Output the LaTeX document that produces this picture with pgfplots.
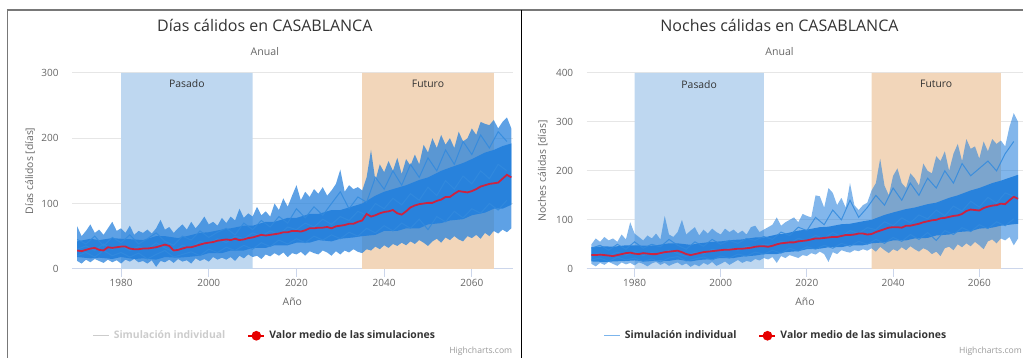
\documentclass[border=0pt]{standalone}
\usepackage{fontspec}
\setmainfont{Open Sans}
\usepackage{pgfplots}
\pgfplotsset{compat=1.18}
\usepgfplotslibrary{fillbetween}
\usepackage{pgfplotstable}

\definecolor{hcblue}{RGB}{40,130,220}
\definecolor{hcline}{RGB}{50,138,222}
\definecolor{pasado}{RGB}{190,215,240}
\definecolor{futuro}{RGB}{242,214,186}
\definecolor{meanred}{RGB}{205,35,65}
\definecolor{legred}{RGB}{230,0,0}
\definecolor{txtdark}{RGB}{51,51,51}
\definecolor{txtgray}{RGB}{102,102,102}
\definecolor{credgray}{RGB}{153,153,153}
\definecolor{hidden}{RGB}{204,204,204}
\definecolor{leglblue}{RGB}{124,181,236}
\definecolor{gridgray}{RGB}{230,230,230}
\definecolor{axisgray}{RGB}{204,214,235}
\definecolor{framegray}{RGB}{120,120,120}

% Dias calidos: envelope of all simulations
\pgfplotstableread{
year up lo
1970 65 12
1971 50 8
1972 58 14
1973 68 10
1974 55 15
1975 60 12
1976 52 9
1977 62 14
1978 72 10
1979 58 13
1980 62 8
1981 55 14
1982 66 11
1983 52 15
1984 58 10
1985 55 12
1986 60 8
1987 54 13
1988 62 3
1989 75 12
1990 60 10
1991 64 14
1992 55 9
1993 62 15
1994 68 11
1995 60 13
1996 72 8
1997 62 16
1998 70 12
1999 80 15
2000 68 11
2001 72 18
2002 66 14
2003 78 17
2004 70 14
2005 80 18
2006 74 12
2007 92 20
2008 78 16
2009 85 22
2010 80 18
2011 95 20
2012 82 15
2013 88 22
2014 80 19
2015 100 24
2016 90 20
2017 108 25
2018 95 18
2019 112 24
2020 128 22
2021 105 26
2022 118 20
2023 110 27
2024 122 24
2025 115 22
2026 125 28
2027 112 25
2028 120 20
2029 130 27
2030 152 22
2031 118 28
2032 128 25
2033 122 30
2034 125 26
2035 120 24
2036 140 30
2037 182 28
2038 135 34
2039 160 30
2040 148 36
2041 165 32
2042 150 38
2043 170 35
2044 145 40
2045 168 36
2046 158 42
2047 175 38
2048 160 44
2049 190 40
2050 178 35
2051 200 42
2052 185 46
2053 205 40
2054 190 48
2055 200 44
2056 185 50
2057 210 45
2058 195 42
2059 200 50
2060 215 47
2061 205 52
2062 225 46
2063 222 55
2064 220 50
2065 228 58
2066 215 54
2067 225 60
2068 232 56
2069 215 62
}\diasenv

% Dias calidos: dense core of the simulations
\pgfplotstableread{
year lo up
1970 18 42
1973 16 46
1975 17 44
1978 15 47
1980 18 46
1983 15 45
1985 16 44
1988 14 50
1990 18 50
1993 17 47
1995 18 50
1998 20 55
2000 24 56
2003 24 60
2005 28 62
2008 28 66
2010 32 66
2013 32 72
2015 36 72
2018 36 78
2020 40 78
2023 40 84
2025 44 84
2028 42 90
2030 46 90
2033 48 96
2035 50 100
2038 52 112
2040 58 118
2043 58 124
2045 62 128
2048 62 136
2050 68 140
2053 70 150
2055 74 155
2058 76 162
2060 82 168
2063 86 178
2065 92 182
2067 92 188
2069 98 192
}\diascore

% Dias calidos: three individual simulations
\pgfplotstableread{
year a b c
1970 45 20 30
1972 38 25 35
1974 50 18 28
1976 35 28 38
1978 48 20 30
1980 40 25 36
1982 52 18 28
1984 38 24 34
1986 46 15 30
1988 55 22 40
1990 42 28 32
1992 36 18 26
1994 50 22 36
1996 44 26 32
1998 58 20 42
2000 48 30 38
2002 56 25 46
2004 62 33 40
2006 52 28 50
2008 70 36 46
2010 60 30 55
2012 74 40 50
2014 64 34 58
2016 80 44 52
2018 70 38 64
2020 92 46 60
2022 78 40 70
2024 95 50 64
2026 82 44 76
2028 100 52 68
2030 118 46 80
2032 92 56 74
2034 110 50 88
2036 102 62 82
2038 140 55 100
2040 122 66 92
2042 150 58 108
2044 128 70 98
2046 160 62 115
2048 140 76 105
2050 170 60 125
2052 150 80 112
2054 182 72 135
2056 160 88 122
2058 195 78 142
2060 175 92 130
2062 205 85 150
2064 185 100 138
2066 210 90 160
2068 195 105 150
}\diaslines

% Dias calidos: mean of the simulations
\pgfplotstableread{
year v
1970 28
1971 27
1972 29
1973 31
1974 32
1975 29
1976 28
1977 33
1978 32
1979 33
1980 34
1981 34
1982 31
1983 30
1984 30
1985 31
1986 31
1987 32
1988 33
1989 35
1990 37
1991 35
1992 28
1993 29
1994 31
1995 33
1996 33
1997 35
1998 37
1999 39
2000 40
2001 41
2002 43
2003 44
2004 45
2005 44
2006 46
2007 44
2008 45
2009 47
2010 48
2011 50
2012 52
2013 51
2014 52
2015 53
2016 54
2017 56
2018 56
2019 58
2020 58
2021 57
2022 59
2023 62
2024 62
2025 63
2026 63
2027 64
2028 62
2029 65
2030 66
2031 67
2032 69
2033 69
2034 72
2035 74
2036 84
2037 80
2038 82
2039 85
2040 87
2041 88
2042 90
2043 85
2044 83
2045 88
2046 94
2047 97
2048 99
2049 100
2050 101
2051 101
2052 104
2053 106
2054 110
2055 110
2056 115
2057 119
2058 118
2059 117
2060 119
2061 122
2062 126
2063 128
2064 130
2065 131
2066 132
2067 138
2068 144
2069 140
}\diasmean

% Noches calidas: envelope
\pgfplotstableread{
year up lo
1970 50 10
1971 62 5
1972 55 12
1973 65 8
1974 58 14
1975 62 10
1976 55 6
1977 70 13
1978 60 9
1979 95 12
1980 72 7
1981 65 13
1982 58 10
1983 68 5
1984 62 11
1985 72 14
1986 60 8
1987 108 12
1988 70 6
1989 65 10
1990 75 13
1991 100 7
1992 70 11
1993 78 4
1994 85 9
1995 68 5
1996 80 12
1997 72 8
1998 82 14
1999 75 6
2000 70 10
2001 82 15
2002 75 8
2003 80 13
2004 72 18
2005 78 12
2006 70 16
2007 85 14
2008 88 20
2009 75 17
2010 80 22
2011 85 19
2012 90 24
2013 105 12
2014 88 26
2015 95 22
2016 100 28
2017 105 25
2018 95 22
2019 112 28
2020 108 26
2021 105 32
2022 150 29
2023 148 35
2024 125 30
2025 165 14
2026 155 34
2027 130 30
2028 145 38
2029 125 35
2030 175 33
2031 130 38
2032 120 36
2033 130 40
2034 135 37
2035 160 42
2036 175 35
2037 225 45
2038 170 38
2039 150 32
2040 190 40
2041 205 36
2042 175 44
2043 165 38
2044 195 46
2045 185 40
2046 170 35
2047 215 42
2048 200 38
2049 195 30
2050 230 35
2051 220 26
2052 240 42
2053 200 45
2054 235 38
2055 255 50
2056 220 44
2057 265 52
2058 245 46
2059 250 55
2060 225 48
2061 260 40
2062 240 56
2063 265 60
2064 255 52
2065 262 62
2066 250 58
2067 290 65
2068 318 48
2069 300 62
}\nochesenv

\pgfplotstableread{
year lo up
1970 15 44
1973 14 46
1975 15 45
1978 16 48
1980 17 48
1983 15 47
1985 17 48
1988 16 52
1990 19 52
1993 15 49
1995 18 52
1998 20 55
2000 22 56
2003 22 59
2005 25 60
2008 27 64
2010 30 64
2013 30 70
2015 34 72
2018 36 78
2020 40 80
2023 41 85
2025 44 86
2028 44 91
2030 48 92
2033 48 97
2035 52 100
2038 54 110
2040 58 115
2043 58 122
2045 62 125
2048 63 132
2050 68 135
2053 70 145
2055 75 150
2058 77 160
2060 82 165
2063 84 175
2065 88 180
2067 90 186
2069 92 192
}\nochescore

\pgfplotstableread{
year a b c
1970 42 18 28
1972 48 22 32
1974 38 15 26
1976 50 24 34
1978 40 18 28
1980 55 22 35
1982 42 15 27
1984 50 20 33
1986 45 14 29
1988 60 22 38
1990 48 25 31
1992 40 16 25
1994 55 20 34
1996 46 24 30
1998 60 18 40
2000 50 26 36
2002 58 22 42
2004 52 30 38
2006 62 26 46
2008 58 34 44
2010 66 30 50
2012 60 38 48
2014 75 32 56
2016 68 42 52
2018 85 36 62
2020 78 45 58
2022 105 40 68
2024 90 48 62
2026 120 42 74
2028 100 52 66
2030 140 46 78
2032 105 56 72
2034 125 50 84
2036 150 60 80
2038 130 52 96
2040 165 64 88
2042 140 56 104
2044 175 70 94
2046 150 60 110
2048 185 74 102
2050 165 58 120
2052 200 78 108
2054 175 70 128
2056 215 84 118
2058 190 76 138
2060 205 90 126
2062 220 82 146
2064 200 96 134
2066 235 88 155
2068 260 102 148
}\nocheslines

\pgfplotstableread{
year v
1970 28
1971 28
1972 29
1973 28
1974 27
1975 26
1976 28
1977 30
1978 32
1979 33
1980 31
1981 30
1982 32
1983 31
1984 30
1985 30
1986 32
1987 34
1988 35
1989 36
1990 37
1991 34
1992 30
1993 28
1994 30
1995 32
1996 34
1997 35
1998 36
1999 37
2000 38
2001 39
2002 39
2003 40
2004 41
2005 41
2006 42
2007 43
2008 45
2009 46
2010 46
2011 45
2012 47
2013 50
2014 52
2015 53
2016 54
2017 54
2018 56
2019 57
2020 58
2021 60
2022 62
2023 62
2024 63
2025 64
2026 65
2027 65
2028 67
2029 69
2030 69
2031 70
2032 72
2033 72
2034 70
2035 71
2036 75
2037 78
2038 81
2039 84
2040 85
2041 85
2042 84
2043 88
2044 88
2045 90
2046 92
2047 95
2048 97
2049 99
2050 100
2051 103
2052 104
2053 106
2054 108
2055 109
2056 112
2057 118
2058 121
2059 120
2060 119
2061 124
2062 127
2063 129
2064 130
2065 133
2066 132
2067 140
2068 147
2069 143
}\nochesmean

\pgfplotsset{
  hcaxis/.style={
    scale only axis, anchor=south west,
    axis x line*=bottom, axis y line*=left,
    x axis line style={draw=axisgray, line width=0.5pt},
    y axis line style={draw=none},
    ymajorgrids, grid style={gridgray, line width=0.5pt},
    xtick={1980,2000,2020,2040,2060},
    xtick style={draw=axisgray, line width=0.5pt},
    ytick style={draw=none},
    major tick length=4pt, tick align=outside,
    /pgf/number format/assume math mode=true,
    /pgf/number format/1000 sep={},
    tick label style={font=\fontsize{5}{6}\selectfont, text=txtgray},
    xticklabel style={inner sep=1pt},
    yticklabel style={inner sep=1pt, xshift=-1.5pt},
    every axis x label/.style={at={(axis description cs:0.5,-0.168)}, anchor=center,
      font=\fontsize{5.2}{6}\selectfont, text=txtgray},
    clip=true,
    legend style={draw=none, fill=none, legend columns=2,
      font=\bfseries\fontsize{5.2}{6}\selectfont, text=txtdark,
      /tikz/every even column/.append style={column sep=9pt},
      inner sep=0pt, row sep=0pt},
    legend cell align=left,
  },
  band/.style={draw=none, forget plot, on layer=pre main},
  simline/.style={hcline, line width=0.5pt, opacity=0.85, forget plot},
}

\begin{document}
\begin{tikzpicture}
\path (0pt,0pt) rectangle (512pt,179pt);
\draw[framegray, line width=0.75pt] (3.4pt,174pt) -- (512pt,174pt);
\draw[framegray, line width=0.75pt] (3.75pt,174.375pt) -- (3.75pt,0pt);
\draw[black, line width=0.6pt] (261pt,174pt) -- (261pt,0pt);

% ---------------- left chart ----------------
\begin{axis}[hcaxis,
  at={(36pt,44.5pt)}, width=220.5pt, height=98pt,
  xmin=1968.8, xmax=2069.3, ymin=0, ymax=300, ytick={0,100,200,300},
  ylabel={Días cálidos [días]}, xlabel={Año},
  every axis y label/.style={at={(axis description cs:-0.095,0.5)}, rotate=90, anchor=center,
    font=\fontsize{5.2}{6}\selectfont, text=txtgray},
  legend style={at={(axis description cs:0.44,-0.342)}, anchor=center},
]
\addplot[fill=pasado, band] coordinates {(1980,0) (1980,300) (2010,300) (2010,0)} \closedcycle;
\addplot[fill=futuro, band] coordinates {(2035,0) (2035,300) (2065,300) (2065,0)} \closedcycle;
\node[font=\fontsize{5.2}{6}\selectfont, text=txtdark] at (axis cs:1995,283) {Pasado};
\node[font=\fontsize{5.2}{6}\selectfont, text=txtdark] at (axis cs:2050,283) {Futuro};
\addplot[draw=none, name path=dup, forget plot] table[x=year, y=up] {\diasenv};
\addplot[draw=none, name path=dlo, forget plot] table[x=year, y=lo] {\diasenv};
\addplot[fill=hcblue, fill opacity=0.75, draw=none, forget plot] fill between[of=dup and dlo];
\addplot[draw=none, name path=dcup, forget plot] table[x=year, y=up] {\diascore};
\addplot[draw=none, name path=dclo, forget plot] table[x=year, y=lo] {\diascore};
\addplot[fill=hcblue, draw=none, forget plot] fill between[of=dcup and dclo];
\addplot[simline] table[x=year, y=a] {\diaslines};
\addplot[simline] table[x=year, y=b] {\diaslines};
\addplot[simline] table[x=year, y=c] {\diaslines};
\addplot[meanred, line width=0.9pt, forget plot] table[x=year, y=v] {\diasmean};
\addlegendimage{hidden, line width=0.6pt, legend image code/.code={\draw[hidden, line width=0.6pt] (0pt,0pt) -- (8pt,0pt);}}
\addlegendentry{\textcolor{hidden}{Simulación individual}}
\addlegendimage{legred, line width=1pt, legend image code/.code={\draw[legred, line width=1pt] (0pt,0pt) -- (8pt,0pt); \fill[legred] (4pt,0pt) circle (1.9pt);}}
\addlegendentry{Valor medio de las simulaciones}
\end{axis}

% ---------------- right chart ----------------
\begin{axis}[hcaxis,
  at={(293.5pt,44.5pt)}, width=218.5pt, height=98pt,
  xmin=1968.87, xmax=2070.2, ymin=0, ymax=400, ytick={0,100,200,300,400},
  ylabel={Noches cálidas [días]}, xlabel={Año},
  every axis y label/.style={at={(axis description cs:-0.1007,0.5)}, rotate=90, anchor=center,
    font=\fontsize{5.2}{6}\selectfont, text=txtgray},
  legend style={at={(axis description cs:0.436,-0.342)}, anchor=center},
]
\addplot[fill=pasado, band] coordinates {(1980,0) (1980,400) (2010,400) (2010,0)} \closedcycle;
\addplot[fill=futuro, band] coordinates {(2035,0) (2035,400) (2065,400) (2065,0)} \closedcycle;
\node[font=\fontsize{5.2}{6}\selectfont, text=txtdark] at (axis cs:1995,377) {Pasado};
\node[font=\fontsize{5.2}{6}\selectfont, text=txtdark] at (axis cs:2050,377) {Futuro};
\addplot[draw=none, name path=nup, forget plot] table[x=year, y=up] {\nochesenv};
\addplot[draw=none, name path=nlo, forget plot] table[x=year, y=lo] {\nochesenv};
\addplot[fill=hcblue, fill opacity=0.58, draw=none, forget plot] fill between[of=nup and nlo];
\addplot[draw=none, name path=ncup, forget plot] table[x=year, y=up] {\nochescore};
\addplot[draw=none, name path=nclo, forget plot] table[x=year, y=lo] {\nochescore};
\addplot[fill=hcblue, draw=none, forget plot] fill between[of=ncup and nclo];
\addplot[simline] table[x=year, y=a] {\nocheslines};
\addplot[simline] table[x=year, y=b] {\nocheslines};
\addplot[simline] table[x=year, y=c] {\nocheslines};
\addplot[meanred, line width=0.9pt, forget plot] table[x=year, y=v] {\nochesmean};
\addlegendimage{leglblue, line width=0.6pt, legend image code/.code={\draw[leglblue, line width=0.6pt] (0pt,0pt) -- (8pt,0pt);}}
\addlegendentry{Simulación individual}
\addlegendimage{legred, line width=1pt, legend image code/.code={\draw[legred, line width=1pt] (0pt,0pt) -- (8pt,0pt); \fill[legred] (4pt,0pt) circle (1.9pt);}}
\addlegendentry{Valor medio de las simulaciones}
\end{axis}

% titles, subtitles, credits
\node[font=\fontsize{8}{9}\selectfont, text=txtdark] at (132.5pt,166.5pt) {Días cálidos en CASABLANCA};
\node[font=\fontsize{5.3}{6}\selectfont, text=txtgray] at (132.5pt,153pt) {Anual};
\node[font=\fontsize{8}{9}\selectfont, text=txtdark] at (390pt,166.5pt) {Noches cálidas en CASABLANCA};
\node[font=\fontsize{5.3}{6}\selectfont, text=txtgray] at (390pt,153pt) {Anual};
\node[font=\fontsize{4.3}{5}\selectfont, text=credgray, anchor=east, inner sep=0pt] at (256.5pt,3pt) {Highcharts.com};
\node[font=\fontsize{4.3}{5}\selectfont, text=credgray, anchor=east, inner sep=0pt] at (511.5pt,3pt) {Highcharts.com};
\end{tikzpicture}
\end{document}
